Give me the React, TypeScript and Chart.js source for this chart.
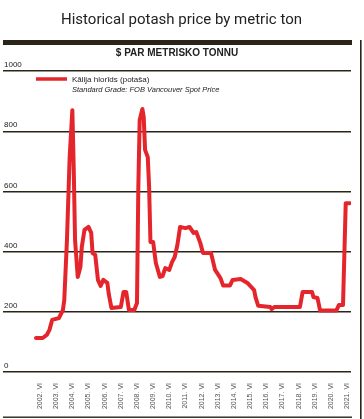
import React, { useEffect, useRef } from 'react';
import { Chart, registerables } from 'chart.js';

Chart.register(...registerables);

const TITLE = 'Historical potash price by metric ton';
const SUBTITLE = '$ PAR METRISKO TONNU';
const SERIES_LABEL = 'Kālija hlorīds (potaša)';
const SERIES_NOTE = 'Standard Grade: FOB Vancouver Spot Price';

const dates: string[] = [
  '2002-03', '2002-08', '2002-11', '2003-01', '2003-03', '2003-08', '2003-11', '2003-12',
  '2004-02', '2004-04', '2004-06', '2004-07', '2004-08', '2004-10', '2004-12',
  '2005-01', '2005-03', '2005-06', '2005-08', '2005-09', '2005-11',
  '2006-01', '2006-03', '2006-05', '2006-08', '2006-09', '2006-11',
  '2007-06', '2007-08', '2007-10', '2007-12',
  '2008-04', '2008-06', '2008-07', '2008-08', '2008-10', '2008-11', '2008-12',
  '2009-02', '2009-03', '2009-04', '2009-06', '2009-08', '2009-11',
  '2010-01', '2010-03', '2010-06', '2010-08', '2010-10', '2010-12',
  '2011-02', '2011-06', '2011-09', '2011-12',
  '2012-02', '2012-05', '2012-07',
  '2013-01', '2013-04', '2013-08', '2013-10',
  '2014-03', '2014-05', '2014-11',
  '2015-04', '2015-09', '2015-10', '2015-12',
  '2016-09', '2016-10', '2016-12',
  '2018-07', '2018-09',
  '2019-04', '2019-05', '2019-08', '2019-10',
  '2020-10', '2020-12',
  '2021-03', '2021-05', '2021-08',
];

const prices: number[] = [
  113, 113, 123, 140, 173, 179, 206, 239,
  439, 714, 870, 681, 439, 316, 349,
  415, 472, 482, 462, 395, 389,
  306, 286, 306, 296, 260, 213,
  216, 266, 266, 206,
  206, 229, 615, 837, 874, 847, 738,
  714, 615, 432, 432, 362, 316,
  319, 345, 339, 365, 382, 422,
  482, 478, 482, 462,
  465, 429, 395,
  395, 339, 312, 287,
  287, 306, 309,
  296, 272, 249, 220,
  216, 209, 216,
  216, 266,
  266, 249, 246, 204,
  204, 223,
  223, 561, 561,
];

const tickYears: number[] = [
  2002, 2003, 2004, 2005, 2006, 2007, 2008, 2009, 2010, 2011,
  2012, 2013, 2014, 2015, 2016, 2017, 2018, 2019, 2020, 2021,
];
const tickMonthSuffix = 'VI';
const yTicks: number[] = [0, 200, 400, 600, 800, 1000];

const DARK = '#2a2518';
const RED = '#e4262c';
const FONT = "'Liberation Sans', Arial, sans-serif";

function toYear(d: string): number {
  const [y, m] = d.split('-').map(Number);
  return y + (m - 1) / 12;
}

const frame = {
  id: 'frame',
  beforeDraw(chart: any) {
    const { ctx } = chart;
    ctx.save();
    ctx.fillStyle = '#ffffff';
    ctx.fillRect(0, 0, chart.width, chart.height);
    ctx.fillStyle = DARK;
    ctx.fillRect(3, 40, 349, 5);
    ctx.fillRect(360, 40, 1.6, 379);
    ctx.fillRect(3, 416.5, 349, 1.4);
    ctx.fillStyle = '#222';
    ctx.textAlign = 'center';
    ctx.textBaseline = 'middle';
    ctx.font = `15px Roboto, 'Open Sans', sans-serif`;
    ctx.fillText(TITLE, 181.5, 20);
    ctx.font = `bold 10px ${FONT}`;
    ctx.fillText(SUBTITLE, 177, 53.5);
    ctx.restore();
  },
  afterDatasetsDraw(chart: any) {
    const { ctx } = chart;
    ctx.save();
    ctx.strokeStyle = RED;
    ctx.lineWidth = 3.5;
    ctx.lineCap = 'butt';
    ctx.beginPath();
    ctx.moveTo(36, 79);
    ctx.lineTo(67, 79);
    ctx.stroke();
    ctx.fillStyle = '#222';
    ctx.textBaseline = 'middle';
    ctx.textAlign = 'left';
    ctx.font = `8px ${FONT}`;
    ctx.fillText(SERIES_LABEL, 72, 80);
    ctx.font = `italic 7.5px ${FONT}`;
    ctx.fillText(SERIES_NOTE, 72, 90);
    ctx.restore();
  },
};

export default function App() {
  const ref = useRef<HTMLCanvasElement | null>(null);
  useEffect(() => {
    document.body.style.margin = '0';
    if (!ref.current) return;
    const points = dates.map((d, i) => ({ x: toYear(d), y: prices[i] }));
    const chart = new Chart(ref.current, {
      type: 'line',
      data: {
        datasets: [
          {
            label: SERIES_LABEL,
            data: points,
            borderColor: RED,
            backgroundColor: RED,
            borderWidth: 4,
            pointRadius: 0,
            tension: 0,
            borderJoinStyle: 'round',
            borderCapStyle: 'round',
          },
        ],
      },
      options: {
        responsive: false,
        animation: false,
        events: [],
        layout: { padding: { left: 3, right: 13, top: 71, bottom: 0 } },
        plugins: {
          legend: { display: false },
          tooltip: { enabled: false },
          title: { display: false },
        },
        scales: {
          x: {
            type: 'linear',
            min: 2000.125,
            max: 2021.66,
            grid: { display: false },
            border: { display: false },
            afterBuildTicks: (scale: any) => {
              scale.ticks = tickYears.map((y) => ({ value: y + 5 / 12 }));
            },
            afterFit: (scale: any) => {
              scale.height = 47;
            },
            ticks: {
              autoSkip: false,
              minRotation: 90,
              maxRotation: 90,
              padding: 3,
              color: '#555',
              font: { family: FONT, size: 7 },
              callback: (v: any) => `${Math.round(Number(v) - 5 / 12)}. ${tickMonthSuffix}`,
            },
          },
          y: {
            min: 0,
            max: 1000,
            afterBuildTicks: (scale: any) => {
              scale.ticks = yTicks.map((v) => ({ value: v }));
            },
            afterFit: (scale: any) => {
              scale.width = 0;
            },
            grid: { color: DARK, lineWidth: 1.4, drawTicks: false },
            border: { display: false },
            ticks: {
              mirror: true,
              padding: 1,
              labelOffset: -6,
              color: '#222',
              font: { family: FONT, size: 8 },
              callback: (v: any) => String(v),
            },
          },
        },
      },
      plugins: [frame],
    });
    return () => chart.destroy();
  }, []);
  return (
    <div style={{ position: 'absolute', left: 0, top: 0 }}>
      <canvas ref={ref} width={364} height={419} />
    </div>
  );
}
